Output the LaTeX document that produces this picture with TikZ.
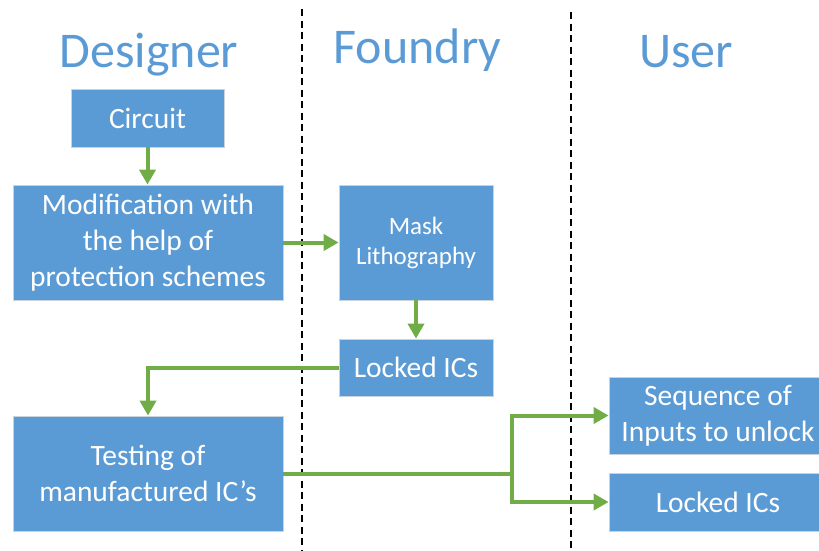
\documentclass[tikz,border=0pt]{standalone}
\usepackage{fontspec}
\setmainfont{Carlito}
\usetikzlibrary{arrows.meta}
\definecolor{boxblue}{HTML}{5B9BD5}
\definecolor{arrgreen}{HTML}{70AD47}
\definecolor{boxedge}{HTML}{C9D3DD}
\begin{document}
\begin{tikzpicture}[x=1pt,y=-1pt,
  box/.style={rectangle, fill=boxblue, draw=boxedge, line width=0.8pt, text=white,
    align=center, inner sep=0pt, font=\fontsize{29.5}{36}\selectfont},
  smallbox/.style={box, font=\fontsize{25}{30}\selectfont},
  title/.style={anchor=base, text=boxblue, font=\fontsize{50}{60}\selectfont},
  flow/.style={draw=arrgreen, line width=4pt, -{Triangle[width=16pt,length=15pt]}},
  lane/.style={black, line width=1.5pt, dash pattern=on 7pt off 4.5pt}]
\useasboundingbox (0,0) rectangle (819,550);
% lanes
\draw[lane] (302,9) -- (302,550);
\draw[lane] (571,12) -- (571,550);
% titles
\node[title] (tdes) at (149,67) {Designer};
\node[title] (tfou) at (417.5,63) {Foundry};
\node[title] (tuse) at (686,67) {User};
% boxes
\node[box, minimum width=153pt, minimum height=58pt] (circ) at (147.5,118) {Circuit};
\node[box, minimum width=270pt, minimum height=115pt] (mod) at (148,242.5) {Modification with\\the help of\\protection schemes};
\node[smallbox, minimum width=154pt, minimum height=115pt] (mask) at (416,242.5) {Mask\\Lithography};
\node[box, minimum width=154pt, minimum height=57pt] (lockA) at (416,367.5) {Locked ICs};
\node[box, minimum width=270pt, minimum height=115pt] (test) at (148,473.5) {Testing of\\manufactured IC’s};
\node[box, minimum width=218pt, minimum height=77pt] (seq) at (718,415.5) {Sequence of\\Inputs to unlock};
\node[box, minimum width=218pt, minimum height=58pt] (lockB) at (718,502) {Locked ICs};
% connectors
\draw[flow] (circ.south) -- (circ.south |- mod.north);
\draw[flow] (mod.east) -- (mask.west);
\draw[flow] (mask.south) -- (lockA.north);
\draw[flow] (lockA.west) -| (test.north);
\coordinate (split) at (512,473.5);
\draw[draw=arrgreen, line width=4pt] (test.east) -- (split);
\draw[flow] (split) |- (seq.west);
\draw[flow] (split) |- (lockB.west);
\end{tikzpicture}
\end{document}
